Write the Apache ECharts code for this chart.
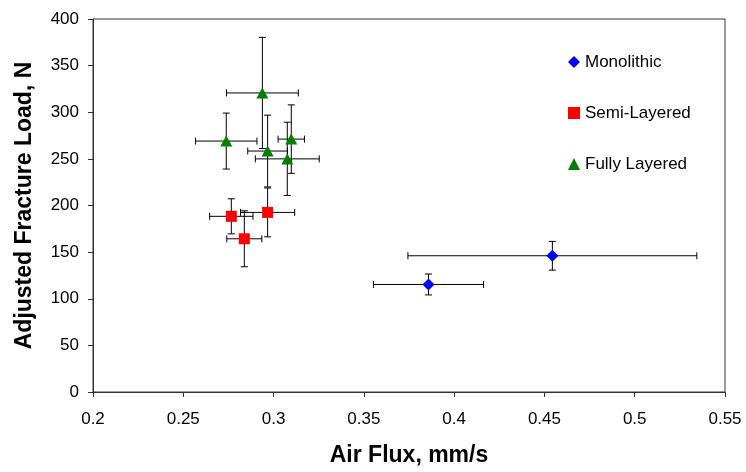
<!DOCTYPE html>
<html>
<head>
<meta charset="utf-8">
<script src="https://cdn.jsdelivr.net/npm/echarts@6/dist/echarts.min.js"></script>
<style>
html,body{margin:0;padding:0;background:#fff;}
#chart{width:746px;height:472px;}
</style>
</head>
<body>
<div id="chart"></div>
<script>
// ---- Data ----
const seriesNames = ['Monolithic', 'Semi-Layered', 'Fully Layered'];
const xTicks = [0.2, 0.25, 0.3, 0.35, 0.4, 0.45, 0.5, 0.55];
const yTicks = [0, 50, 100, 150, 200, 250, 300, 350, 400];

const monoX    = [0.3858, 0.4544];
const monoY    = [115.3, 146.1];
const monoXErr = [0.0305, 0.080];
const monoYErr = [11.2, 15.4];

const semiX    = [0.2766, 0.2838, 0.2967];
const semiY    = [188.4, 164.3, 192.6];
const semiXErr = [0.012, 0.0097, 0.015];
const semiYErr = [18.8, 30.0, 26.2];

const fullX    = [0.2738, 0.2938, 0.2967, 0.3076, 0.3098];
const fullY    = [269.1, 320.7, 258.4, 250.0, 271.2];
const fullXErr = [0.017, 0.0199, 0.011, 0.0177, 0.0073];
const fullYErr = [30.0, 59.6, 38.5, 39.3, 36.7];

// ---- Build ----
const FONT = '"Liberation Sans", Arial, sans-serif';
function pts(xs, ys) { return xs.map((x, i) => [x, ys[i]]); }
function errs(xs, ys, exs, eys) { return xs.map((x, i) => [x, ys[i], exs[i], eys[i]]); }

function errRender(params, api) {
  const x = api.value(0), y = api.value(1), ex = api.value(2), ey = api.value(3);
  const l = api.coord([x - ex, y]);
  const r = api.coord([x + ex, y]);
  const t = api.coord([x, y + ey]);
  const b = api.coord([x, y - ey]);
  const cap = 3.5;
  const style = { stroke: '#000', lineWidth: 1 };
  const line = (x1, y1, x2, y2) => ({ type: 'line', shape: { x1, y1, x2, y2 }, style });
  return {
    type: 'group',
    children: [
      line(l[0], l[1], r[0], r[1]),
      line(l[0], l[1] - cap, l[0], l[1] + cap),
      line(r[0], r[1] - cap, r[0], r[1] + cap),
      line(t[0], t[1], b[0], b[1]),
      line(t[0] - cap, t[1], t[0] + cap, t[1]),
      line(b[0] - cap, b[1], b[0] + cap, b[1])
    ]
  };
}

const errSeries = (data) => ({
  type: 'custom',
  renderItem: errRender,
  data: data,
  z: 1,
  silent: true,
  encode: { x: [0], y: [1] }
});

const option = {
  animation: false,
  backgroundColor: '#fff',
  grid: {
    left: 93, right: 21, top: 19, bottom: 76,
    show: true, borderColor: '#333', borderWidth: 1
  },
  legend: {
    orient: 'vertical',
    left: 563, top: 48,
    itemWidth: 12, itemHeight: 12,
    itemGap: 33,
    data: seriesNames,
    textStyle: { fontFamily: FONT, fontSize: 17, color: '#000', lineHeight: 18 }
  },
  xAxis: {
    type: 'value',
    min: xTicks[0], max: xTicks[xTicks.length - 1], interval: 0.05,
    name: 'Air Flux, mm/s',
    nameLocation: 'middle', nameGap: 52,
    nameTextStyle: { fontFamily: FONT, fontSize: 23, fontWeight: 'bold', color: '#000' },
    axisLine: { lineStyle: { color: '#333' } },
    axisTick: { inside: false, length: 5, lineStyle: { color: '#333' } },
    axisLabel: { fontFamily: FONT, fontSize: 17, color: '#000', margin: 19,
      formatter: v => String(parseFloat(v.toFixed(2))) },
    splitLine: { show: false }
  },
  yAxis: {
    type: 'value',
    min: yTicks[0], max: yTicks[yTicks.length - 1], interval: 50,
    name: 'Adjusted Fracture Load, N',
    nameLocation: 'middle', nameGap: 57,
    nameTextStyle: { fontFamily: FONT, fontSize: 23, fontWeight: 'bold', color: '#000' },
    axisLine: { show: true, lineStyle: { color: '#333' } },
    axisTick: { show: true, inside: false, length: 5, lineStyle: { color: '#333' } },
    axisLabel: { fontFamily: FONT, fontSize: 17, color: '#000', margin: 14 },
    splitLine: { show: false }
  },
  series: [
    errSeries(errs(monoX, monoY, monoXErr, monoYErr)),
    errSeries(errs(semiX, semiY, semiXErr, semiYErr)),
    errSeries(errs(fullX, fullY, fullXErr, fullYErr)),
    { name: seriesNames[0], type: 'scatter', symbol: 'diamond', symbolSize: 12,
      itemStyle: { color: '#0000FF', opacity: 1 }, data: pts(monoX, monoY), z: 3 },
    { name: seriesNames[1], type: 'scatter', symbol: 'rect', symbolSize: 11,
      itemStyle: { color: '#FF0000', opacity: 1 }, data: pts(semiX, semiY), z: 3 },
    { name: seriesNames[2], type: 'scatter', symbol: 'triangle', symbolSize: [12, 11],
      itemStyle: { color: '#008000', opacity: 1 }, data: pts(fullX, fullY), z: 3 }
  ]
};

const chart = echarts.init(document.getElementById('chart'), null, { renderer: 'canvas' });
chart.setOption(option);
</script>
</body>
</html>
